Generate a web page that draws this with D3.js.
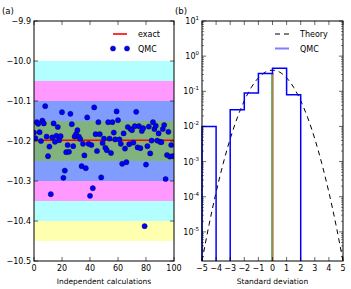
<!DOCTYPE html>
<html><head><meta charset="utf-8">
<script src="https://cdn.jsdelivr.net/npm/d3@7"></script>
<style>
body{margin:0;background:#fff;}
svg text{font-family:"DejaVu Sans",sans-serif;fill:#000;}
</style></head>
<body><svg id="c" width="351" height="289"></svg>
<script>
// ---------- data ----------
const qmcEnergies = [
-10.179,-10.193,-10.153,-10.157,-10.178,-10.200,-10.149,-10.156,-10.113,-10.189,
-10.238,-10.214,-10.333,-10.191,-10.156,-10.202,-10.187,-10.165,-10.198,-10.188,
-10.128,-10.292,-10.274,-10.228,-10.210,-10.227,-10.132,-10.158,-10.213,-10.189,
-10.183,-10.173,-10.189,-10.195,-10.263,-10.207,-10.236,-10.268,-10.141,-10.207,
-10.337,-10.210,-10.318,-10.116,-10.183,-10.225,-10.153,-10.183,-10.291,-10.205,
-10.194,-10.217,-10.223,-10.153,-10.194,-10.230,-10.153,-10.179,-10.196,-10.126,
-10.148,-10.196,-10.207,-10.257,-10.181,-10.219,-10.253,-10.165,-10.208,-10.170,
-10.173,-10.204,-10.163,-10.127,-10.216,-10.163,-10.218,-10.175,-10.168,-10.413,
-10.259,-10.213,-10.164,-10.231,-10.199,-10.153,-10.170,-10.162,-10.199,-10.181,
-10.202,-10.203,-10.170,-10.160,-10.295,-10.235,-10.177,-10.239,-10.210,-10.238];
const exactEnergy = -10.198;
// sigma bands: [low, high, colour]
const bandLow  = [-10.05, -10.10, -10.15, -10.25, -10.30, -10.35, -10.40, -10.45];
const bandHigh = [-10.00, -10.05, -10.10, -10.15, -10.25, -10.30, -10.35, -10.40];
const bandColor= ["#b3ffff","#ff99ff","#809cff","#80b380","#809cff","#ff99ff","#b3ffff","#ffffb0"];
const leftYTicks = [-9.9,-10.0,-10.1,-10.2,-10.3,-10.4,-10.5];
const leftXTicks = [0,20,40,60,80,100];

const histEdges = [-5,-4,-3,-2,-1,0,1,2,3,4,5];
const histDensity = [0.01,0,0.03,0.09,0.32,0.45,0.08,0,0,0];
const theoryX = [-5,-4.5,-4,-3.5,-3,-2.5,-2,-1.5,-1,-0.5,0,0.5,1,1.5,2,2.5,3,3.5,4,4.5,5];
const theoryY = [1.487e-6,1.598e-5,1.338e-4,8.727e-4,4.432e-3,1.753e-2,5.399e-2,0.1295,0.2420,0.3521,0.3989,
                 0.3521,0.2420,0.1295,5.399e-2,1.753e-2,4.432e-3,8.727e-4,1.338e-4,1.598e-5,1.487e-6];
const qmcMeanSigma = -0.03;
const exactSigma = 0.05;
const markerTop = 0.33;
const rightXTicks = [-5,-4,-3,-2,-1,0,1,2,3,4,5];
const rightYExp = [1,0,-1,-2,-3,-4,-5];

// ---------- drawing ----------
const svg = d3.select("#c");
const FS = 8;

// Panel a
const ax = {l:34, r:174, t:21, b:261};
const xA = d3.scaleLinear().domain([0,100]).range([ax.l, ax.r]);
const yA = d3.scaleLinear().domain([-10.5,-9.9]).range([ax.b, ax.t]);
const gA = svg.append("g");
gA.append("clipPath").attr("id","clipA").append("rect")
  .attr("x",ax.l).attr("y",ax.t).attr("width",ax.r-ax.l).attr("height",ax.b-ax.t);
const plotA = gA.append("g").attr("clip-path","url(#clipA)");
plotA.selectAll("rect.band").data(bandLow).enter().append("rect")
  .attr("x",ax.l).attr("width",ax.r-ax.l)
  .attr("y",(d,i)=>yA(bandHigh[i])).attr("height",(d,i)=>yA(bandLow[i])-yA(bandHigh[i]))
  .attr("fill",(d,i)=>bandColor[i]);
plotA.append("line").attr("x1",xA(0)).attr("x2",xA(100))
  .attr("y1",yA(exactEnergy)).attr("y2",yA(exactEnergy))
  .attr("stroke","#ff0000").attr("stroke-width",1.6);
plotA.selectAll("circle").data(qmcEnergies).enter().append("circle")
  .attr("cx",(d,i)=>xA(i)).attr("cy",d=>yA(d)).attr("r",2.6)
  .attr("fill","#0000ff").attr("stroke","#000033").attr("stroke-width",0.4);
// frame
gA.append("rect").attr("x",ax.l).attr("y",ax.t).attr("width",ax.r-ax.l).attr("height",ax.b-ax.t)
  .attr("fill","none").attr("stroke","#000").attr("stroke-width",1);
// ticks
leftYTicks.forEach(v=>{
  const y=yA(v);
  gA.append("line").attr("x1",ax.l).attr("x2",ax.l+4).attr("y1",y).attr("y2",y).attr("stroke","#000").attr("stroke-width",0.6);
  gA.append("line").attr("x1",ax.r-4).attr("x2",ax.r).attr("y1",y).attr("y2",y).attr("stroke","#000").attr("stroke-width",0.6);
  gA.append("text").attr("x",ax.l-3).attr("y",y+3).attr("text-anchor","end").attr("font-size",FS)
    .text(d3.format(".1f")(v).replace("-","\u2212"));
});
leftXTicks.forEach(v=>{
  const x=xA(v);
  gA.append("line").attr("x1",x).attr("x2",x).attr("y1",ax.b).attr("y2",ax.b-4).attr("stroke","#000").attr("stroke-width",0.6);
  gA.append("line").attr("x1",x).attr("x2",x).attr("y1",ax.t).attr("y2",ax.t+4).attr("stroke","#000").attr("stroke-width",0.6);
  gA.append("text").attr("x",x).attr("y",ax.b+10).attr("text-anchor","middle").attr("font-size",FS).text(v);
});
gA.append("text").attr("x",(ax.l+ax.r)/2).attr("y",284).attr("text-anchor","middle").attr("font-size",7.5).text("Independent calculations");
gA.append("text").attr("x",2).attr("y",14).attr("font-size",8.5).text("(a)");
// legend a
gA.append("line").attr("x1",113).attr("x2",127).attr("y1",34).attr("y2",34).attr("stroke","#ff0000").attr("stroke-width",1.6);
gA.append("text").attr("x",138).attr("y",37).attr("font-size",FS).text("exact");
[113,127].forEach(x=>gA.append("circle").attr("cx",x).attr("cy",48.5).attr("r",2.6).attr("fill","#0000ff").attr("stroke","#000033").attr("stroke-width",0.4));
gA.append("text").attr("x",138).attr("y",51.5).attr("font-size",FS).text("QMC");

// Panel b
const bx = {l:202, r:343, t:21, b:261};
const xB = d3.scaleLinear().domain([-5,5]).range([bx.l, bx.r]);
const yB = d3.scaleLog().domain([1.487e-6,10]).range([bx.b, bx.t]);
const gB = svg.append("g");
gB.append("clipPath").attr("id","clipB").append("rect")
  .attr("x",bx.l-1).attr("y",bx.t).attr("width",bx.r-bx.l+2).attr("height",bx.b-bx.t);
const plotB = gB.append("g").attr("clip-path","url(#clipB)");
// theory
plotB.append("path").datum(theoryX.map((x,i)=>[x,theoryY[i]]))
  .attr("d",d3.line().x(d=>xB(d[0])).y(d=>yB(d[1])).curve(d3.curveNatural))
  .attr("fill","none").attr("stroke","#000").attr("stroke-width",1).attr("stroke-dasharray","5,4");
// vertical markers
plotB.append("line").attr("x1",xB(qmcMeanSigma)).attr("x2",xB(qmcMeanSigma))
  .attr("y1",bx.b+2).attr("y2",yB(markerTop)).attr("stroke","#6aaa6a").attr("stroke-width",2);
plotB.append("line").attr("x1",xB(exactSigma)).attr("x2",xB(exactSigma))
  .attr("y1",bx.b+2).attr("y2",yB(markerTop)).attr("stroke","#d0602a").attr("stroke-width",0.8);
// histogram step
const B = bx.b+3;
const pts = [[histEdges[0],null]];
histDensity.forEach((v,i)=>{
  if(v>0){pts.push([histEdges[i],v]);pts.push([histEdges[i+1],v]);}
  else {pts.push([histEdges[i],null]);pts.push("gap");pts.push([histEdges[i+1],null]);}
});
if(histDensity[histDensity.length-1]>0) pts.push([histEdges[histEdges.length-1],null]);
plotB.append("path").datum(pts)
  .attr("d",d3.line().defined(d=>d!=="gap").x(d=>xB(d[0])).y(d=>d[1]===null?B:yB(d[1])))
  .attr("fill","none").attr("stroke","#0000ff").attr("stroke-width",1.5);
// frame
gB.append("rect").attr("x",bx.l).attr("y",bx.t).attr("width",bx.r-bx.l).attr("height",bx.b-bx.t)
  .attr("fill","none").attr("stroke","#000").attr("stroke-width",1);
rightXTicks.forEach(v=>{
  const x=xB(v);
  gB.append("line").attr("x1",x).attr("x2",x).attr("y1",bx.b).attr("y2",bx.b-4).attr("stroke","#000").attr("stroke-width",0.6);
  gB.append("line").attr("x1",x).attr("x2",x).attr("y1",bx.t).attr("y2",bx.t+4).attr("stroke","#000").attr("stroke-width",0.6);
  gB.append("text").attr("x",x).attr("y",bx.b+10).attr("text-anchor","middle").attr("font-size",FS)
    .text(String(v).replace("-","\u2212"));
});
rightYExp.forEach(e=>{
  const y=yB(Math.pow(10,e));
  gB.append("line").attr("x1",bx.l).attr("x2",bx.l+4).attr("y1",y).attr("y2",y).attr("stroke","#000").attr("stroke-width",0.6);
  gB.append("line").attr("x1",bx.r-4).attr("x2",bx.r).attr("y1",y).attr("y2",y).attr("stroke","#000").attr("stroke-width",0.6);
  const t=gB.append("text").attr("x",bx.l-3).attr("y",y+3).attr("text-anchor","end").attr("font-size",FS);
  t.append("tspan").text("10");
  t.append("tspan").attr("font-size",5.5).attr("dy",-4).text(String(e).replace("-","-"));
});
for(let e=-6;e<1;e++){
  for(let m=2;m<10;m++){
    const v=m*Math.pow(10,e);
    if(v<1.487e-6||v>10) continue;
    const y=yB(v);
    gB.append("line").attr("x1",bx.l).attr("x2",bx.l+2).attr("y1",y).attr("y2",y).attr("stroke","#000").attr("stroke-width",0.5);
    gB.append("line").attr("x1",bx.r-2).attr("x2",bx.r).attr("y1",y).attr("y2",y).attr("stroke","#000").attr("stroke-width",0.5);
  }
}
gB.append("text").attr("x",(bx.l+bx.r)/2).attr("y",284).attr("text-anchor","middle").attr("font-size",7.5).text("Standard deviation");
gB.append("text").attr("x",175).attr("y",14).attr("font-size",8.5).text("(b)");
// legend b
gB.append("line").attr("x1",275).attr("x2",289).attr("y1",34).attr("y2",34).attr("stroke","#000").attr("stroke-width",1).attr("stroke-dasharray","5,4");
gB.append("text").attr("x",300).attr("y",37).attr("font-size",FS).text("Theory");
gB.append("line").attr("x1",275).attr("x2",289).attr("y1",48.5).attr("y2",48.5).attr("stroke","#7f7fff").attr("stroke-width",2);
gB.append("text").attr("x",300).attr("y",51.5).attr("font-size",FS).text("QMC");
</script></body></html>
